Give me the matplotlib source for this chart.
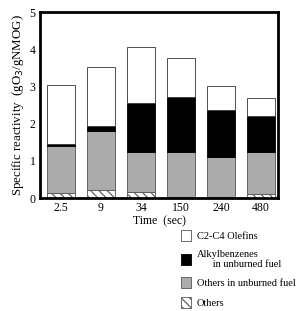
import numpy as np
import matplotlib.pyplot as plt
from matplotlib.patches import Patch

# time labels and stacked values (bottom -> top)
times = ["2.5", "9", "34", "150", "240", "480"]
others = [0.13, 0.22, 0.16, 0.03, 0.03, 0.10]
others_fuel = [1.26, 1.58, 1.07, 1.20, 1.07, 1.13]
alkylbenzenes = [0.07, 0.13, 1.34, 1.48, 1.26, 0.98]
olefins = [1.58, 1.60, 1.48, 1.05, 0.65, 0.47]

plt.rcParams["font.family"] = ["Liberation Serif", "DejaVu Serif"]
plt.rcParams["hatch.color"] = "#666666"
plt.rcParams["hatch.linewidth"] = 0.8

fig = plt.figure(figsize=(3.0, 3.11), dpi=100)
ax = fig.add_axes([0.133, 0.363, 0.794, 0.598])

x = np.arange(len(times))
w = 0.68
b1 = np.array(others)
b2 = b1 + np.array(others_fuel)
b3 = b2 + np.array(alkylbenzenes)

ax.bar(x, others, w, color="white", edgecolor="#555555", hatch="\\\\\\\\", lw=0.6)
ax.bar(x, others_fuel, w, bottom=b1, color="#ababab", edgecolor="#555555", lw=0.6)
ax.bar(x, alkylbenzenes, w, bottom=b2, color="black", edgecolor="black", lw=0.6)
ax.bar(x, olefins, w, bottom=b3, color="white", edgecolor="#333333", lw=0.6)

ax.set_xlim(-0.525, 5.43)
ax.set_ylim(0, 5)
ax.set_xticks(x)
ax.set_xticklabels(times)
ax.set_yticks([0, 1, 2, 3, 4, 5])
ax.tick_params(length=0, labelsize=8.5, pad=3)
for s in ax.spines.values():
    s.set_linewidth(2)
ax.set_xlabel("Time  (sec)", fontsize=8.5, labelpad=1)
ax.set_ylabel("Specific reactivity  (gO$_3$/gNMOG)", fontsize=9.3, labelpad=3)

handles = [
    Patch(facecolor="white", edgecolor="#555555", lw=0.6),
    Patch(facecolor="black", edgecolor="black", lw=0.6),
    Patch(facecolor="#ababab", edgecolor="#555555", lw=0.6),
    Patch(facecolor="white", edgecolor="#555555", hatch="\\\\\\\\", lw=0.6),
]
labels = ["C2-C4 Olefins", "Alkylbenzenes\n      in unburned fuel",
          "Others in unburned fuel", "Others"]
fig.legend(handles, labels, loc="upper left", bbox_to_anchor=(0.585, 0.276),
           frameon=False, fontsize=7.5, handlelength=1.0, handleheight=1.25,
           handletextpad=0.55, labelspacing=0.8, borderpad=0)

fig.savefig("out.png", dpi=100)
